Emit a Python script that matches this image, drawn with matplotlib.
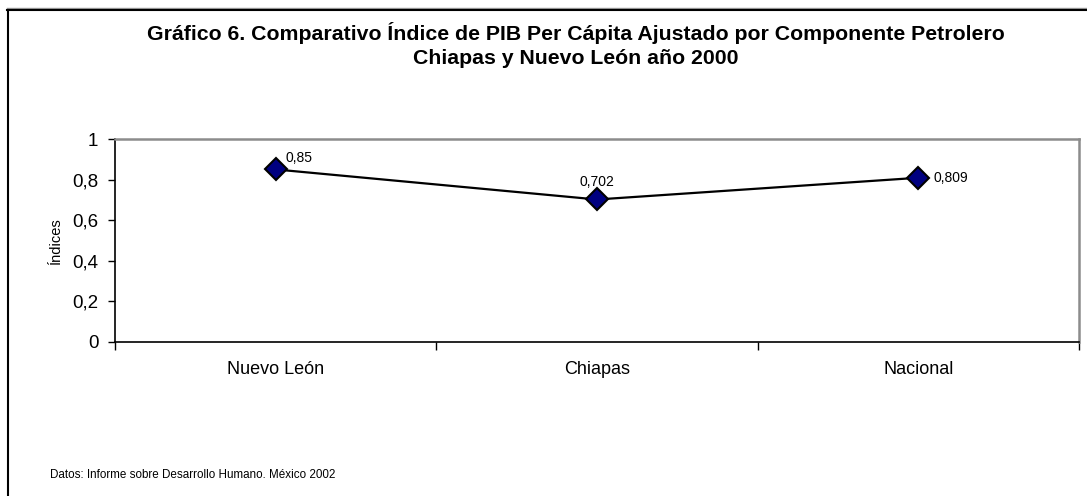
import matplotlib
matplotlib.use("Agg")
import matplotlib.pyplot as plt
from matplotlib.lines import Line2D
from matplotlib import font_manager

categories = ["Nuevo León", "Chiapas", "Nacional"]
values = [0.85, 0.702, 0.809]
value_labels = ["0,85", "0,702", "0,809"]
y_ticks = [0, 0.2, 0.4, 0.6, 0.8, 1.0]
y_tick_labels = ["0", "0,2", "0,4", "0,6", "0,8", "1"]

names = {f.name for f in font_manager.fontManager.ttflist}
narrow = "Liberation Sans Narrow" if "Liberation Sans Narrow" in names else "Liberation Sans"
plt.rcParams["font.family"] = [narrow, "DejaVu Sans"]

W, H = 1087, 496
fig = plt.figure(figsize=(W / 100, H / 100), dpi=100)

# frame around the chart (top and left edges visible)
fig.add_artist(Line2D([7 / W, 1], [1 - 8 / H, 1 - 8 / H], color="#999999", lw=1.0))
fig.add_artist(Line2D([7 / W, 1], [1 - 9.5 / H, 1 - 9.5 / H], color="black", lw=1.5))
fig.add_artist(Line2D([7.5 / W, 7.5 / W], [0, 1 - 9.5 / H], color="black", lw=1.5))

left, right, top, bottom = 115, 1079, 139, 342
ax = fig.add_axes([left / W, 1 - bottom / H, (right - left) / W, (bottom - top) / H])

x = list(range(len(categories)))
ax.plot(x, values, color="black", lw=1.6, marker="D", markersize=11,
        markerfacecolor="#000080", markeredgecolor="black", markeredgewidth=1.5,
        zorder=3, clip_on=False)

ax.set_xlim(-0.5, len(categories) - 0.5)
ax.set_ylim(0, 1)

ax.set_yticks(y_ticks)
ax.set_yticklabels(y_tick_labels, fontsize=13.5)
ax.set_xticks(x)
ax.set_xticklabels(categories, fontsize=13)
ax.tick_params(axis="x", length=0, pad=14)
ax.set_xticks([i - 0.5 for i in range(len(categories) + 1)], minor=True)
ax.tick_params(axis="x", which="minor", length=6, width=1, direction="out")
ax.tick_params(axis="y", length=5, width=1, direction="out", pad=7)

for side in ("top", "right"):
    ax.spines[side].set_color("#8c8c8c")
    ax.spines[side].set_linewidth(1.8)
for side in ("left", "bottom"):
    ax.spines[side].set_color("black")
    ax.spines[side].set_linewidth(1.2)

ax.set_ylabel("Índices", fontsize=10.5, labelpad=7)

# value annotations next to each marker
offsets = [(7, 3, "left", "bottom"), (0, 7.5, "center", "bottom"), (11, 0, "left", "center")]
for xi, v, lab, (dx, dy, ha, va) in zip(x, values, value_labels, offsets):
    ax.annotate(lab, (xi, v), xytext=(dx, dy), textcoords="offset points",
                ha=ha, va=va, fontsize=10)

title_font = ["Liberation Sans", "DejaVu Sans"]
fig.text(576 / W, 1 - 33 / H, "Gráfico 6. Comparativo Índice de PIB Per Cápita Ajustado por Componente Petrolero",
         ha="center", va="center", fontsize=15.3, fontweight="bold", family=title_font)
fig.text(576 / W, 1 - 58 / H, "Chiapas y Nuevo León año 2000",
         ha="center", va="center", fontsize=15.3, fontweight="bold", family=title_font)

fig.text(50 / W, 1 - 475 / H, "Datos: Informe sobre Desarrollo Humano. México 2002",
         ha="left", va="center", fontsize=8.4)

fig.savefig("out.png", dpi=100)
